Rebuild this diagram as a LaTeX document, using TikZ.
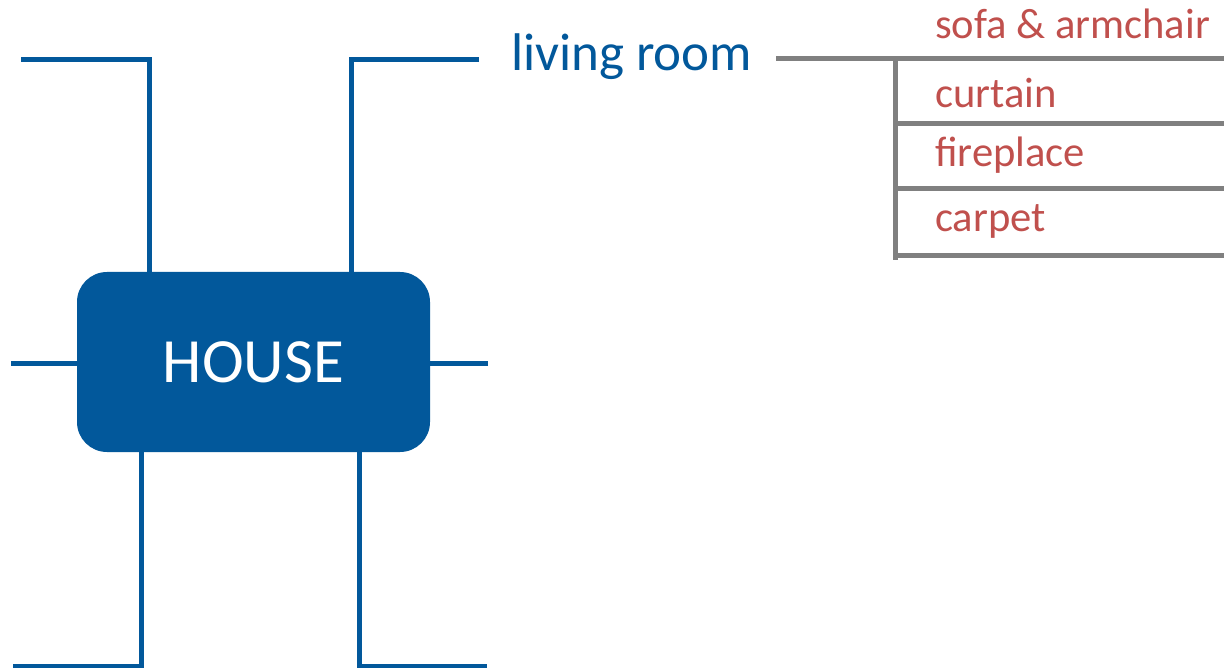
\documentclass[tikz,border=0pt]{standalone}
\usepackage{fontspec}
\setmainfont{Carlito}
\definecolor{hblue}{RGB}{2,88,155}
\definecolor{hgray}{RGB}{128,128,128}
\definecolor{hred}{RGB}{192,80,77}
\begin{document}
\begin{tikzpicture}[x=1pt,y=-1pt,
  blueline/.style={draw=hblue,line width=5pt},
  grayline/.style={draw=hgray,line width=5pt},
  housebox/.style={fill=hblue,text=white,rounded corners=30pt,minimum width=353pt,minimum height=180pt,inner sep=0pt,font=\fontsize{63}{70}\selectfont},
  roomtext/.style={text=hblue,anchor=base west,inner sep=0pt,font=\fontsize{53}{60}\selectfont},
  itemtext/.style={text=hred,anchor=base west,inner sep=0pt,font=\fontsize{42.6}{50}\selectfont}]
\useasboundingbox (0,0) rectangle (1224,668);
\node[housebox] (house) at (253.5,362) {HOUSE};
% branch ends
\coordinate (tl1) at (21,60);
\coordinate (tl2) at (149,60);
\coordinate (tr1) at (479,60);
\coordinate (tr2) at (351,60);
\coordinate (ml) at (11,364);
\coordinate (mr) at (488,364);
\coordinate (bl1) at (13,666);
\coordinate (bl2) at (141,666);
\coordinate (br1) at (487,666);
\coordinate (br2) at (359,666);
\draw[blueline] (tl1) -- (tl2) -- (tl2 |- house.north);
\draw[blueline] (tr1) -- (tr2) -- (tr2 |- house.north);
\draw[blueline] (ml) -- (ml -| house.west);
\draw[blueline] (mr) -- (mr -| house.east);
\draw[blueline] (bl1) -- (bl2) -- (bl2 |- house.south);
\draw[blueline] (br1) -- (br2) -- (br2 |- house.south);
% living room
\node[roomtext] (living) at (511,71) {living room};
\coordinate (g0) at (776,59);
\coordinate (g1) at (895,59);
\coordinate (g2) at (895,260);
\coordinate (r1) at (1224,59);
\coordinate (r2) at (1224,124);
\coordinate (r3) at (1224,189);
\coordinate (r4) at (1224,256);
\draw[grayline] (g0) -- (g1);
\draw[grayline] ([yshift=-2pt]g1) -- (g2);
\draw[grayline] (g1) -- (r1);
\draw[grayline] (g1 |- r2) -- (r2);
\draw[grayline] (g1 |- r3) -- (r3);
\draw[grayline] (g1 |- r4) -- (r4);
\node[itemtext] (sofa) at (935,39) {sofa \& armchair};
\node[itemtext] (curtain) at (935,108) {curtain};
\node[itemtext] (fireplace) at (935,167) {fireplace};
\node[itemtext] (carpet) at (935,232) {carpet};
\end{tikzpicture}
\end{document}
